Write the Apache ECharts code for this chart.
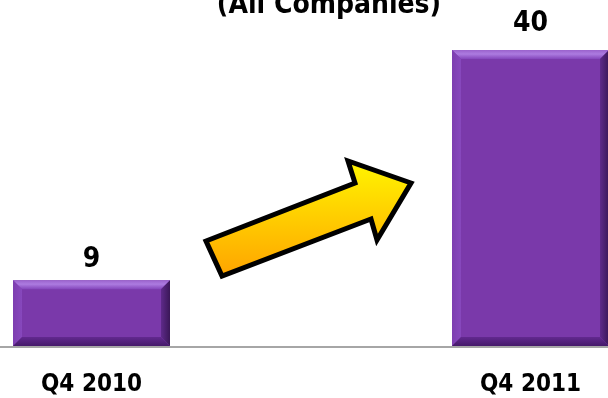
<!DOCTYPE html>
<html>
<head>
<meta charset="utf-8">
<style>
  html, body { margin: 0; padding: 0; background: #ffffff; overflow: hidden; width: 608px; height: 398px; }
  /* the plot area is wider than the window: both bars sit near the edges */
  #chart { position: absolute; left: -128px; top: 0; width: 878px; height: 398px; }
</style>
<script src="https://cdn.jsdelivr.net/npm/echarts@6/dist/echarts.min.js"></script>
</head>
<body>
<div id="chart"></div>
<script>
// Quarterly counts
const categories = ['Q4 2010', 'Q4 2011'];
const counts = [9, 40];
const titleText = '(All Companies)';

const FONT = "'DejaVu Sans Condensed', 'DejaVu Sans', sans-serif";
const SHIFT = 128;          // horizontal offset of the canvas inside the window
const BAR_WIDTH = 157;
const BEVEL = 9;
const LABEL_GAPS = [6, 12];

const chart = echarts.init(document.getElementById('chart'), null, { renderer: 'canvas' });

function renderBevelBar(params, api) {
  const idx = api.value(0);
  const val = api.value(1);
  const top = api.coord([idx, val]);
  const base = api.coord([idx, 0]);
  const x0 = top[0] - BAR_WIDTH / 2, x1 = top[0] + BAR_WIDTH / 2;
  const y0 = top[1], y1 = base[1] - 1;
  const b = BEVEL;
  return {
    type: 'group',
    children: [
      { type: 'rect', shape: { x: x0, y: y0, width: x1 - x0, height: y1 - y0 },
        style: { fill: '#7a39aa' } },
      // top bevel
      { type: 'polygon', shape: { points: [[x0, y0], [x1, y0], [x1 - b, y0 + b], [x0 + b, y0 + b]] },
        style: { fill: new echarts.graphic.LinearGradient(0, 0, 0, 1, [
          { offset: 0, color: '#9a62cc' }, { offset: 0.45, color: '#ac7be0' }, { offset: 1, color: '#8446bb' }]) } },
      // left bevel
      { type: 'polygon', shape: { points: [[x0, y0], [x0 + b, y0 + b], [x0 + b, y1 - b], [x0, y1]] },
        style: { fill: new echarts.graphic.LinearGradient(0, 0, 1, 0, [
          { offset: 0, color: '#7d3eb0' }, { offset: 1, color: '#8748bd' }]) } },
      // right bevel
      { type: 'polygon', shape: { points: [[x1, y0], [x1, y1], [x1 - b, y1 - b], [x1 - b, y0 + b]] },
        style: { fill: new echarts.graphic.LinearGradient(0, 0, 1, 0, [
          { offset: 0, color: '#5e2a8a' }, { offset: 1, color: '#3a1757' }]) } },
      // bottom bevel
      { type: 'polygon', shape: { points: [[x0, y1], [x1, y1], [x1 - b, y1 - b], [x0 + b, y1 - b]] },
        style: { fill: new echarts.graphic.LinearGradient(0, 0, 0, 1, [
          { offset: 0, color: '#62298f' }, { offset: 1, color: '#45196a' }]) } },
      // value label
      { type: 'text',
        style: { text: String(val), x: top[0], y: y0 - LABEL_GAPS[params.dataIndex],
          textAlign: 'center', textVerticalAlign: 'bottom',
          font: 'bold 28px ' + FONT, fill: '#000000' } }
    ]
  };
}

// arrow outline in window coordinates
const arrowPoints = [[206, 241], [355, 183], [348, 161], [411, 183], [377, 240], [371, 219], [222, 276]]
  .map(p => [p[0] + SHIFT, p[1]]);

const option = {
  animation: false,
  backgroundColor: '#ffffff',
  title: {
    text: titleText,
    left: 324 + SHIFT,
    textAlign: 'center',
    top: -13,
    textStyle: { fontFamily: FONT, fontWeight: 'bold', fontSize: 28, color: '#000000' }
  },
  grid: { left: 0, right: 0, top: 50, bottom: 51, containLabel: false },
  xAxis: {
    type: 'category',
    data: categories,
    boundaryGap: true,
    axisLine: { show: true, lineStyle: { color: '#a6a6a6', width: 2 } },
    axisTick: { show: false },
    axisLabel: { margin: 26, fontFamily: FONT, fontWeight: 'bold', fontSize: 24, color: '#000000' },
    splitLine: { show: false }
  },
  yAxis: { type: 'value', min: 0, max: 40, show: false, splitLine: { show: false } },
  series: [{
    type: 'custom',
    renderItem: renderBevelBar,
    data: counts.map((v, i) => [i, v]),
    z: 1
  }],
  graphic: [{
    type: 'polygon',
    z: 10,
    shape: { points: arrowPoints },
    style: {
      fill: new echarts.graphic.LinearGradient(0, 0, 0, 1, [
        { offset: 0, color: '#fff700' }, { offset: 1, color: '#ffa200' }]),
      stroke: '#000000', lineWidth: 5, lineJoin: 'miter'
    }
  }]
};

chart.setOption(option);
</script>
</body>
</html>
